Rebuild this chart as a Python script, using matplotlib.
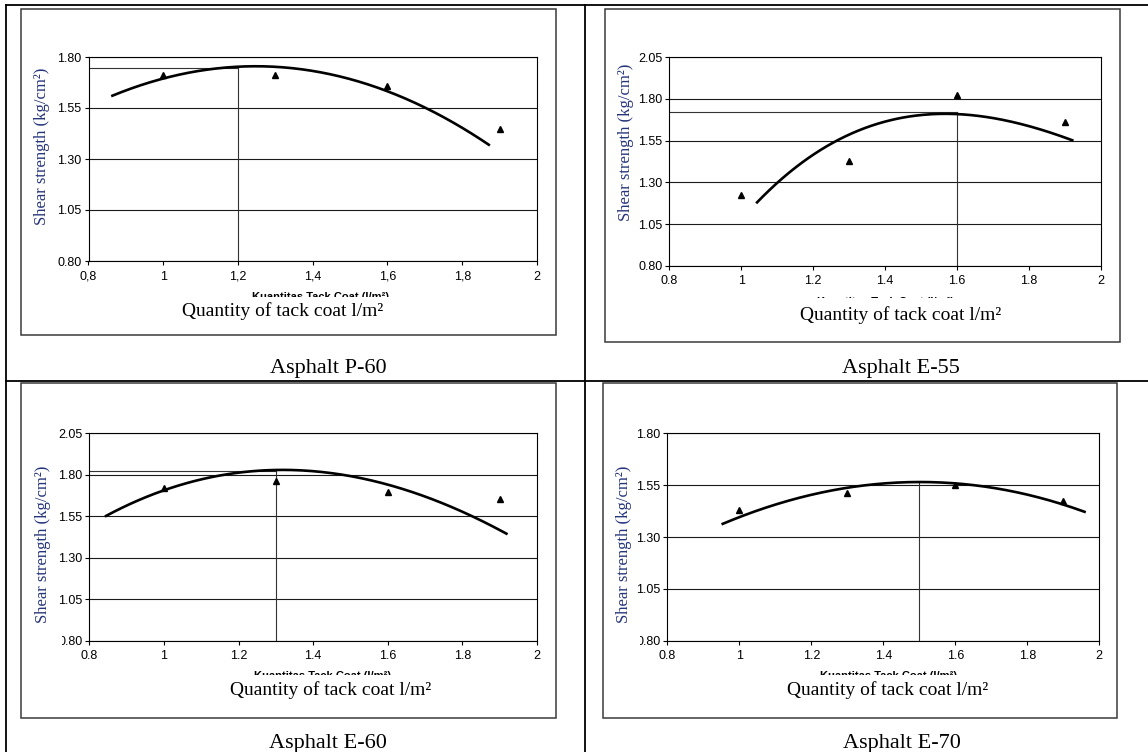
import numpy as np
import matplotlib
matplotlib.use('Agg')
import matplotlib.pyplot as plt
from matplotlib.lines import Line2D
from matplotlib.patches import Rectangle
from matplotlib.transforms import Bbox

W, H = 1148, 752

# measured data (triangles) for each asphalt type
x_points = [1.0, 1.3, 1.6, 1.9]
p60_y = [1.710, 1.712, 1.656, 1.447]
e55_y = [1.226, 1.428, 1.824, 1.664]
e60_y = [1.718, 1.765, 1.698, 1.652]
e70_y = [1.430, 1.511, 1.551, 1.474]

# points read along the trend curve of each chart
p60_cx = [0.864, 1.0, 1.2, 1.4, 1.6, 1.695, 1.8, 1.871]
p60_cy = [1.607, 1.702, 1.748, 1.728, 1.640, 1.552, 1.454, 1.369]
e55_cx = [1.044, 1.098, 1.2, 1.283, 1.4, 1.6, 1.8, 1.92]
e55_cy = [1.178, 1.294, 1.470, 1.570, 1.654, 1.720, 1.630, 1.555]
e60_cx = [0.845, 1.0, 1.2, 1.319, 1.47, 1.6, 1.8, 1.918]
e60_cy = [1.552, 1.708, 1.809, 1.829, 1.809, 1.739, 1.574, 1.447]
e70_cx = [0.954, 1.0, 1.2, 1.4, 1.501, 1.6, 1.8, 1.959]
e70_cy = [1.363, 1.398, 1.499, 1.556, 1.570, 1.564, 1.495, 1.425]

# optimum (peak) marker lines: x, y, draw horizontal?
p60_opt = (1.2, 1.748, True)
e55_opt = (1.6, 1.720, True)
e60_opt = (1.3, 1.824, True)
e70_opt = (1.5, 1.565, False)

x_ticks = [0.8, 1.0, 1.2, 1.4, 1.6, 1.8, 2.0]
x_labels_comma = ['0,8', '1', '1,2', '1,4', '1,6', '1,8', '2']
x_labels_dot = ['0.8', '1', '1.2', '1.4', '1.6', '1.8', '2']
y_ticks_short = [0.80, 1.05, 1.30, 1.55, 1.80]
y_ticks_long = [0.80, 1.05, 1.30, 1.55, 1.80, 2.05]

captions = ['Asphalt P-60', 'Asphalt E-55', 'Asphalt E-60', 'Asphalt E-70']
y_title = 'Shear strength (kg/cm²)'
x_title = 'Quantity of tack coat l/m²'
old_x_title = 'Kuantitas Tack Coat (l/m²)'

# pixel positions (left, top, right, bottom) etc.; old = (x, baseline, clip bottom)
panels = [
    dict(y=p60_y, cx=p60_cx, cy=p60_cy, opt=p60_opt, yt=y_ticks_short, xl=x_labels_comma,
         ax=(88.5, 57, 537, 261), frame=(21, 9, 556, 335), ylab=(42, 146),
         xt=(283, 316.5), old=(320, 300.5, 297), cap=(328, 373), clip0=None),
    dict(y=e55_y, cx=e55_cx, cy=e55_cy, opt=e55_opt, yt=y_ticks_long, xl=x_labels_dot,
         ax=(669.3, 57.3, 1101, 265.7), frame=(605, 9, 1120, 342), ylab=(626, 142.5),
         xt=(901, 320), old=(885, 305, 298), cap=(901, 373), clip0=None),
    dict(y=e60_y, cx=e60_cx, cy=e60_cy, opt=e60_opt, yt=y_ticks_long, xl=x_labels_dot,
         ax=(89.3, 433.3, 537, 640.7), frame=(21, 383, 556, 718), ylab=(43, 544),
         xt=(331, 695), old=(322, 679, 675), cap=(328, 748), clip0=62),
    dict(y=e70_y, cx=e70_cx, cy=e70_cy, opt=e70_opt, yt=y_ticks_short, xl=x_labels_dot,
         ax=(667.3, 433.3, 1099.3, 640.7), frame=(603, 383, 1117, 718), ylab=(623.5, 544),
         xt=(888, 695), old=(889, 679, 675), cap=(902, 748), clip0=640),
]

serif = ['Liberation Serif', 'DejaVu Serif']
sans = ['Liberation Sans', 'DejaVu Sans']
plt.rcParams['font.family'] = sans


def fx(px):
    return px / W


def fy(py):
    return 1 - py / H


fig = plt.figure(figsize=(W / 100, H / 100), dpi=100)

# table grid lines
for (x0, y0, x1, y1) in [(6, 5, 1148, 5), (6, 5, 6, 752), (585, 5, 585, 752), (6, 381, 1148, 381)]:
    fig.add_artist(Line2D([fx(x0), fx(x1)], [fy(y0), fy(y1)], color='black', lw=1.3,
                          transform=fig.transFigure))

for i, p in enumerate(panels):
    x0, y0, x1, y1 = p['frame']
    fig.add_artist(Rectangle((fx(x0), fy(y1)), fx(x1) - fx(x0), fy(y0) - fy(y1),
                             transform=fig.transFigure, fill=False, ec='#3a3a3a', lw=1.1))

    a0, b0, a1, b1 = p['ax']
    ax = fig.add_axes([fx(a0), fy(b1), fx(a1) - fx(a0), fy(b0) - fy(b1)])
    ymin, ymax = p['yt'][0], p['yt'][-1]
    ax.set_xlim(0.8, 2.0)
    ax.set_ylim(ymin, ymax)
    ax.set_xticks(x_ticks)
    ax.set_xticklabels(p['xl'])
    ax.set_yticks(p['yt'])
    ylabels = ax.set_yticklabels(['%.2f' % v for v in p['yt']])
    ax.tick_params(direction='out', length=3, width=0.8, labelsize=9, pad=2, colors='black')
    ax.tick_params(axis='x', pad=4)
    ax.yaxis.grid(True, color='#1a1a1a', lw=0.8)
    ax.set_axisbelow(True)
    for s in ax.spines.values():
        s.set_color('black')
        s.set_linewidth(0.8)

    # the lowest label is cut at the left edge in these charts
    if p['clip0'] is not None:
        lab = ylabels[0]
        lab.set_clip_box(Bbox.from_extents(p['clip0'], 0, W, H))
        lab.set_clip_on(True)

    # optimum lines
    ox, oy, horiz = p['opt']
    ax.plot([ox, ox], [ymin, oy], color='#333333', lw=0.8, zorder=2)
    if horiz:
        ax.plot([0.8, ox], [oy, oy], color='#333333', lw=0.8, zorder=2)

    # trend curve
    coef = np.polyfit(p['cx'], p['cy'], 3)
    xs = np.linspace(p['cx'][0], p['cx'][-1], 200)
    ax.plot(xs, np.polyval(coef, xs), color='black', lw=1.9, zorder=3)

    ax.plot(x_points, p['y'], ls='none', marker='^', color='black', markersize=5, zorder=4)

    lx, ly = p['ylab']
    fig.text(fx(lx), fy(ly), y_title, rotation=90, ha='center', va='center',
             family=serif, fontsize=12, color='#26347a')

    # old axis title, mostly hidden: only its top edge shows
    ox_, ob_, oc_ = p['old']
    old = fig.text(fx(ox_), fy(ob_), old_x_title, ha='center', va='baseline',
                   family=sans, fontsize=8, fontweight='bold', color='black')
    old.set_clip_box(Bbox.from_extents(0, H - oc_, W, H))
    old.set_clip_on(True)

    tx, ty = p['xt']
    fig.text(fx(tx), fy(ty), x_title, ha='center', va='baseline', family=serif,
             fontsize=14, color='black')

    cx_, cy_ = p['cap']
    fig.text(fx(cx_), fy(cy_), captions[i], ha='center', va='baseline', family=serif,
             fontsize=16, color='black')

fig.savefig('out.png', dpi=100, facecolor='white')
